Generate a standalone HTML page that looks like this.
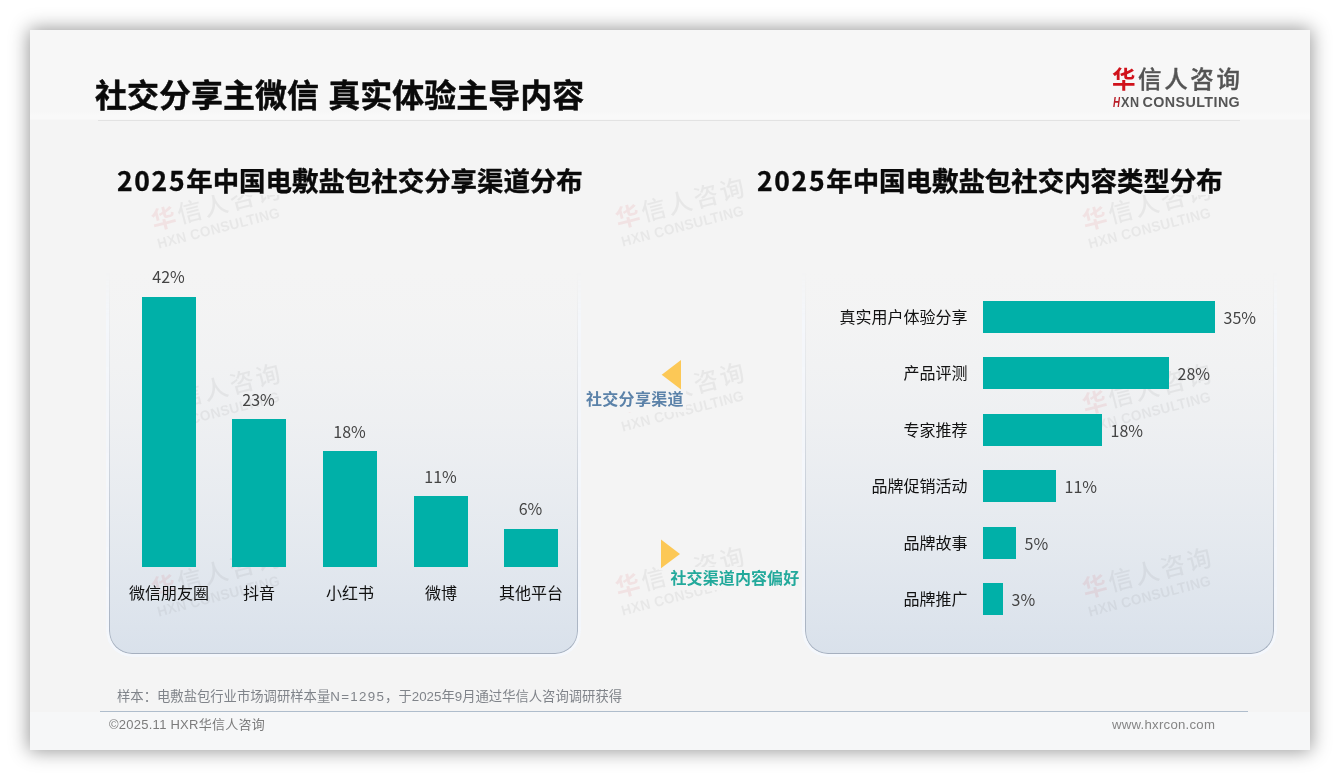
<!DOCTYPE html>
<html lang="zh-CN">
<head>
<meta charset="utf-8">
<title>社交分享主微信 真实体验主导内容</title>
<style>
*{box-sizing:border-box;margin:0;padding:0}
html,body{width:1340px;height:780px;background:#fff;overflow:hidden}
body{position:relative;font-family:"Liberation Sans","Noto Sans CJK SC",sans-serif;color:#111}
.abs{position:absolute;white-space:nowrap}
#slide{position:absolute;left:30px;top:30px;width:1280px;height:720px;background:#f4f4f4;box-shadow:0 0 18px 1px rgba(0,0,0,.42)}
#hdr{position:absolute;left:30px;top:30px;width:1280px;height:90px;background:linear-gradient(#f7f7f7 0,#f7f7f7 82px,#f9f9f9 86px,#f9f9f9 89px,#f5f5f5 90px)}
#hline{position:absolute;left:98px;top:120px;width:1142px;height:1px;background:#e2e2e2}
#ftr{position:absolute;left:30px;top:712px;width:1280px;height:38px;background:#f6f7f8}
#fline{position:absolute;left:100px;top:710.8px;width:1147.5px;height:1.2px;background:#afbdcc}
.cjk{font-family:"Noto Sans CJK SC","Liberation Sans",sans-serif}
#title{left:95px;top:69px;word-spacing:2px;-webkit-text-stroke:.45px #0a0a0a;font-size:32px;line-height:48px;font-weight:700;color:#0a0a0a}
.ct{-webkit-text-stroke:.35px #0a0a0a;font-size:26.45px;line-height:40px;font-weight:700;color:#0a0a0a}
.panel{position:absolute;width:469px;height:384px;top:270px;border-radius:0 0 23px 23px;
 background:linear-gradient(rgba(217,225,235,0.000) 0%,rgba(217,225,235,0.025) 10%,rgba(217,225,235,0.076) 20%,rgba(217,225,235,0.146) 30%,rgba(217,225,235,0.231) 40%,rgba(217,225,235,0.330) 50%,rgba(217,225,235,0.442) 60%,rgba(217,225,235,0.565) 70%,rgba(217,225,235,0.700) 80%,rgba(217,225,235,0.845) 90%,rgba(217,225,235,1.000) 100%)}
.panel:before{content:"";position:absolute;left:-3px;right:-3px;top:0;bottom:-3px;border-radius:0 0 26px 26px;border:3px solid rgba(244,247,253,.85);border-top:0;
 -webkit-mask-image:linear-gradient(rgba(0,0,0,0) 0,rgba(0,0,0,.8) 12%,#000 100%);mask-image:linear-gradient(rgba(0,0,0,0) 0,rgba(0,0,0,.8) 12%,#000 100%)}
.panel:after{content:"";position:absolute;inset:0;border-radius:0 0 23px 23px;border:1.2px solid #a6b0bf;border-top:0;
 -webkit-mask-image:linear-gradient(rgba(0,0,0,0) 0,rgba(0,0,0,.22) 33%,rgba(0,0,0,.6) 70%,#000 100%);mask-image:linear-gradient(rgba(0,0,0,0) 0,rgba(0,0,0,.22) 33%,rgba(0,0,0,.6) 70%,#000 100%)}
.dg{letter-spacing:1.7px}
.bar{position:absolute;background:#00b0a8}
.val{font-family:"Noto Sans CJK SC","Liberation Sans",sans-serif;font-size:16px;line-height:20px;color:#444;text-align:center}
.cat{font-family:"Noto Sans CJK SC","Liberation Sans",sans-serif;font-size:16px;line-height:20px;color:#111}
.wm{position:absolute;white-space:nowrap;transform:rotate(-14.5deg);transform-origin:0 0;opacity:.075;pointer-events:none}
.wm b{display:block;font-family:"Noto Sans CJK SC",sans-serif;font-weight:500;font-size:24.5px;line-height:28px;letter-spacing:2.4px;color:#555}
.wm b u{text-decoration:none;color:#d0121b;font-weight:700}
.wm i{display:block;font-style:normal;font-weight:700;font-size:14.4px;line-height:15px;letter-spacing:.35px;color:#555;margin-top:3px;transform:scaleX(.945);transform-origin:0 50%}
</style>
</head>
<body>
<div id="slide"></div>
<div id="hdr"></div>
<div id="ftr"></div>
<div id="hline"></div>
<div id="fline"></div>

<div id="title" class="abs cjk">社交分享主微信 真实体验主导内容</div>

<!-- logo -->
<div class="abs cjk" id="logo1" style="left:1112px;top:60.5px;font-size:23.5px;line-height:34px;letter-spacing:2.6px;font-weight:500;color:#545454;-webkit-text-stroke:.35px #545454"><span style="color:#d0121b;font-weight:700;-webkit-text-stroke:0">华</span>信人咨询</div>
<div class="abs" id="logo2" style="left:1113px;top:93.6px;width:130px;height:16px;font-size:14.3px;line-height:16px;font-weight:700;color:#555"><span style="position:absolute;left:0;top:0;color:#b81c26;font-style:italic;transform:scaleX(.68);transform-origin:0 50%">H</span><span style="position:absolute;left:8.4px;top:0;transform:scaleX(.88);transform-origin:0 50%;letter-spacing:.7px">XN</span><span style="position:absolute;left:29.6px;top:0;letter-spacing:.41px">CONSULTING</span></div>


<div class="panel" style="left:109px"></div>
<div class="panel" style="left:805px"></div>

<!-- watermarks -->
<div class="wm" style="left:147.5px;top:207px"><b><u>华</u>信人咨询</b><i>HXN CONSULTING</i></div>
<div class="wm" style="left:612px;top:205px"><b><u>华</u>信人咨询</b><i>HXN CONSULTING</i></div>
<div class="wm" style="left:1078.5px;top:207px"><b><u>华</u>信人咨询</b><i>HXN CONSULTING</i></div>
<div class="wm" style="left:147.5px;top:391px"><b><u>华</u>信人咨询</b><i>HXN CONSULTING</i></div>
<div class="wm" style="left:612px;top:390px"><b><u>华</u>信人咨询</b><i>HXN CONSULTING</i></div>
<div class="wm" style="left:1078.5px;top:391px"><b><u>华</u>信人咨询</b><i>HXN CONSULTING</i></div>
<div class="wm" style="left:147.5px;top:575px"><b><u>华</u>信人咨询</b><i>HXN CONSULTING</i></div>
<div class="wm" style="left:612px;top:574px"><b><u>华</u>信人咨询</b><i>HXN CONSULTING</i></div>
<div class="wm" style="left:1078.5px;top:575px"><b><u>华</u>信人咨询</b><i>HXN CONSULTING</i></div>

<div class="abs" style="left:112px;top:166px;width:476px;height:29px;background:#f4f4f4"></div>
<div class="abs" style="left:752px;top:166px;width:476px;height:29px;background:#f4f4f4"></div>
<div class="abs cjk ct" id="ct1" style="left:117px;top:160px"><span class="dg">2025</span>年中国电敷盐包社交分享渠道分布</div>
<div class="abs cjk ct" id="ct2" style="left:757px;top:160px"><span class="dg">2025</span>年中国电敷盐包社交内容类型分布</div>
<!-- left chart -->
<div class="bar" style="left:142px;top:297px;width:54px;height:270px"></div>
<div class="bar" style="left:232px;top:419px;width:54px;height:148px"></div>
<div class="bar" style="left:323px;top:451px;width:54px;height:116px"></div>
<div class="bar" style="left:414px;top:496px;width:54px;height:71px"></div>
<div class="bar" style="left:504px;top:529px;width:54px;height:38px"></div>

<div class="abs val" style="left:128.5px;width:80px;top:266px">42%</div>
<div class="abs val" style="left:218.5px;width:80px;top:389px">23%</div>
<div class="abs val" style="left:309.5px;width:80px;top:421px">18%</div>
<div class="abs val" style="left:400.5px;width:80px;top:466px">11%</div>
<div class="abs val" style="left:490.5px;width:80px;top:498px">6%</div>

<div class="abs cat" style="left:109px;width:120px;top:582.3px;text-align:center">微信朋友圈</div>
<div class="abs cat" style="left:199px;width:120px;top:582.3px;text-align:center">抖音</div>
<div class="abs cat" style="left:290px;width:120px;top:582.3px;text-align:center">小红书</div>
<div class="abs cat" style="left:381px;width:120px;top:582.3px;text-align:center">微博</div>
<div class="abs cat" style="left:471px;width:120px;top:582.3px;text-align:center">其他平台</div>

<!-- middle -->
<div class="abs" style="left:582px;top:356px;width:104px;height:56px;background:#f4f4f4"></div>
<div class="abs" style="left:668px;top:567px;width:134px;height:23px;background:#f4f4f4"></div>
<div class="abs" style="left:659px;top:538px;width:23px;height:32px;background:#f4f4f4"></div>
<svg class="abs" style="left:655px;top:355px" width="32" height="40"><polygon points="26,5 26,34.5 6.7,19.7" fill="#fcc856"/></svg>
<div class="abs cjk" id="m1" style="left:586px;top:388px;letter-spacing:.3px;font-size:16px;line-height:20px;font-weight:700;color:#5b82a9">社交分享渠道</div>
<svg class="abs" style="left:655px;top:535px" width="32" height="40"><polygon points="6,4.6 6,33.2 25,19" fill="#fcc856"/></svg>
<div class="abs cjk" id="m2" style="left:670.5px;top:567px;letter-spacing:.1px;font-size:16px;line-height:20px;font-weight:700;color:#22a99b">社交渠道内容偏好</div>

<!-- right chart -->
<div class="bar" style="left:983px;top:301px;width:232px;height:32px"></div>
<div class="bar" style="left:983px;top:357px;width:186px;height:32px"></div>
<div class="bar" style="left:983px;top:414px;width:119px;height:32px"></div>
<div class="bar" style="left:983px;top:470px;width:73px;height:32px"></div>
<div class="bar" style="left:983px;top:527px;width:33px;height:32px"></div>
<div class="bar" style="left:983px;top:583px;width:20px;height:32px"></div>

<div class="abs cat" style="right:372.5px;top:305.7px">真实用户体验分享</div>
<div class="abs cat" style="right:372.5px;top:361.7px">产品评测</div>
<div class="abs cat" style="right:372.5px;top:418.7px">专家推荐</div>
<div class="abs cat" style="right:372.5px;top:474.7px">品牌促销活动</div>
<div class="abs cat" style="right:372.5px;top:531.7px">品牌故事</div>
<div class="abs cat" style="right:372.5px;top:587.7px">品牌推广</div>

<div class="abs val" style="left:1223.5px;top:306.5px">35%</div>
<div class="abs val" style="left:1177.5px;top:362.5px">28%</div>
<div class="abs val" style="left:1110.5px;top:419.5px">18%</div>
<div class="abs val" style="left:1064.5px;top:475.5px">11%</div>
<div class="abs val" style="left:1024.5px;top:532.5px">5%</div>
<div class="abs val" style="left:1011.5px;top:588.5px">3%</div>

<!-- footer -->
<div class="abs" id="src" style="left:117px;top:688px;font-size:13.33px;line-height:18px;color:#80848a">样本：电敷盐包行业市场调研样本量<span style="letter-spacing:1.3px">N=1295</span>，于2025年9月通过华信人咨询调研获得</div>
<div class="abs" id="cp" style="left:109px;top:716px;font-size:13px;line-height:18px;color:#7c7c7c;letter-spacing:.25px">©2025.11 HXR华信人咨询</div>
<div class="abs" id="url" style="left:1112px;top:716px;font-size:13.2px;line-height:18px;color:#858585;letter-spacing:.25px">www.hxrcon.com</div>
</body>
</html>
